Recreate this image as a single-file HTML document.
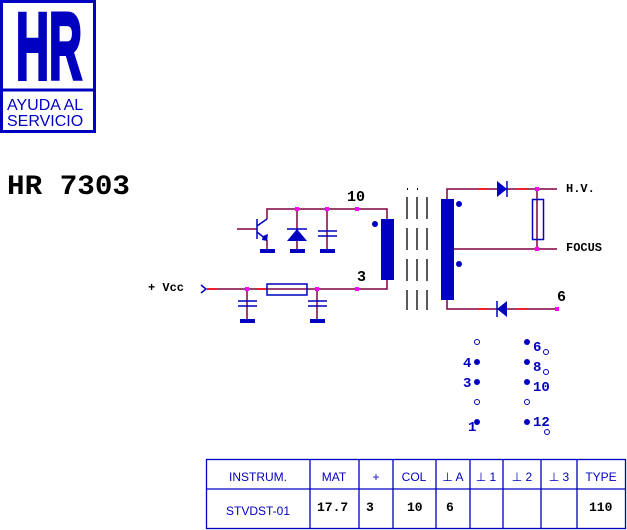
<!DOCTYPE html>
<html><head><meta charset="utf-8"><style>
body{margin:0;background:#fff;width:627px;height:530px;overflow:hidden;position:relative}
svg{position:absolute;left:0;top:0}
</style></head><body>
<svg width="627" height="530" viewBox="0 0 627 530" xmlns="http://www.w3.org/2000/svg">
<rect x="1.5" y="1.5" width="93" height="130" fill="none" stroke="#0000c0" stroke-width="3"/>
<line x1="1" y1="90" x2="95" y2="90" stroke="#0000c0" stroke-width="3"/>
<text x="16" y="79" font-family="Liberation Sans, sans-serif" font-weight="bold" font-size="95" fill="#0000c0" stroke="#0000c0" stroke-width="4" stroke-linejoin="miter" textLength="66" lengthAdjust="spacingAndGlyphs">HR</text>
<text x="7" y="110" font-family="Liberation Sans, sans-serif" font-size="16" fill="#0000c0">AYUDA AL</text>
<text x="7" y="126" font-family="Liberation Sans, sans-serif" font-size="16" fill="#0000c0">SERVICIO</text>
<text x="7" y="194" font-family="Liberation Mono, monospace" font-weight="bold" font-size="28" fill="#000" textLength="123" lengthAdjust="spacingAndGlyphs">HR 7303</text>

<g stroke="#800040" stroke-width="1.5" fill="none">
<polyline points="267,219 267,209 387,209 387,219"/>
<polyline points="207,289 387,289 387,280"/>
<line x1="297" y1="209" x2="297" y2="250"/>
<line x1="327" y1="209" x2="327" y2="250"/>
<line x1="267" y1="240" x2="267" y2="250"/>
<line x1="237" y1="229" x2="257" y2="229"/>
<line x1="247" y1="289" x2="247" y2="319"/>
<line x1="317" y1="289" x2="317" y2="319"/>
<polyline points="447,199 447,189 557,189"/>
<line x1="447" y1="249" x2="557" y2="249"/>
<polyline points="447,300 447,309 557,309"/>
<line x1="537" y1="189" x2="537" y2="249"/>
</g>
<g stroke="#ff0000" stroke-width="1.5">
<line x1="207" y1="289" x2="217" y2="289"/>
<line x1="257" y1="289" x2="267" y2="289"/>
<line x1="478" y1="189" x2="488" y2="189"/>
<line x1="517" y1="189" x2="527" y2="189"/>
<line x1="478" y1="309" x2="488" y2="309"/>
<line x1="517" y1="309" x2="527" y2="309"/>
</g>
<g stroke="#0000c0" stroke-width="1.5" fill="none">
<line x1="257" y1="219" x2="257" y2="239"/>
<line x1="257" y1="226" x2="267" y2="219"/>
<line x1="257" y1="232" x2="267" y2="240"/>
<line x1="287" y1="229" x2="307" y2="229"/>
<line x1="318" y1="231" x2="337" y2="231"/><line x1="318" y1="236" x2="337" y2="236"/>
<line x1="238" y1="301" x2="257" y2="301"/><line x1="238" y1="306" x2="257" y2="306"/>
<line x1="308" y1="301" x2="327" y2="301"/><line x1="308" y1="306" x2="327" y2="306"/>
<rect x="267" y="284" width="40" height="11"/>
<rect x="532.5" y="199.5" width="11" height="40"/>
<polyline points="201,285 206,289 201,293"/>
<line x1="507" y1="181" x2="507" y2="197"/>
<line x1="497" y1="301" x2="497" y2="317"/>
</g>
<g fill="#0000c0">
<polygon points="263,236 268,234 267,241 262,240"/>
<polygon points="297,229 287,241 307,241"/>
<polygon points="497,181 507,189 497,197"/>
<polygon points="507,301 497,309 507,317"/>
<rect x="260" y="249" width="15" height="4"/>
<rect x="290" y="249" width="15" height="4"/>
<rect x="320" y="249" width="15" height="4"/>
<rect x="240" y="319" width="15" height="4"/>
<rect x="310" y="319" width="15" height="4"/>
<rect x="381" y="219" width="13" height="61"/>
<rect x="441" y="199" width="13" height="101"/>
<circle cx="375" cy="224" r="3"/>
<circle cx="459" cy="204" r="3"/>
<circle cx="459" cy="264" r="3"/>
</g>
<g fill="#ff00ff">
<rect x="295" y="207" width="4" height="4"/><rect x="325" y="207" width="4" height="4"/><rect x="355" y="207" width="4" height="4"/>
<rect x="245" y="287" width="4" height="4"/><rect x="315" y="287" width="4" height="4"/><rect x="355" y="287" width="4" height="4"/>
<rect x="535" y="187" width="4" height="4"/><rect x="535" y="247" width="4" height="4"/><rect x="555" y="307" width="4" height="4"/>
</g>
<g stroke="#000" stroke-width="1.3" stroke-dasharray="22,9">
<line x1="407" y1="197" x2="407" y2="310"/>
<line x1="417" y1="197" x2="417" y2="310"/>
<line x1="427" y1="197" x2="427" y2="310"/>
</g>
<g fill="#000"><rect x="407" y="188" width="1" height="2"/><rect x="417" y="188" width="1" height="2"/></g>
<g font-family="Liberation Mono, monospace" font-weight="bold" fill="#000">
<text x="347" y="201" font-size="15">10</text>
<text x="357" y="281" font-size="15">3</text>
<text x="557" y="301" font-size="15">6</text>
<text x="566" y="192" font-size="12">H.V.</text>
<text x="566" y="251" font-size="12">FOCUS</text>
<text x="148" y="291" font-size="12">+ Vcc</text>
</g>
<g fill="#0000c0"><circle cx="477" cy="362" r="3"/><circle cx="477" cy="382" r="3"/><circle cx="477" cy="422" r="3"/>
<circle cx="527" cy="342" r="3"/><circle cx="527" cy="362" r="3"/><circle cx="527" cy="382" r="3"/><circle cx="527" cy="422" r="3"/></g>
<g fill="none" stroke="#0000c0" stroke-width="1"><circle cx="477" cy="342" r="2.5"/><circle cx="477" cy="402" r="2.5"/><circle cx="527" cy="402" r="2.5"/>
<circle cx="546" cy="352" r="2.5"/><circle cx="546" cy="372" r="2.5"/><circle cx="547" cy="432" r="2.5"/></g>
<g font-family="Liberation Mono, monospace" font-weight="bold" font-size="14" fill="#0000c0">
<text x="463" y="367">4</text><text x="463" y="387">3</text><text x="468" y="431">1</text>
<text x="533" y="351">6</text><text x="533" y="371">8</text><text x="533" y="391">10</text><text x="533" y="426">12</text>
</g>
<g stroke="#0000c0" stroke-width="1.3" fill="none">
<rect x="206.5" y="459.5" width="419" height="69"/>
<line x1="206" y1="489" x2="626" y2="489"/>
<line x1="310" y1="459" x2="310" y2="529"/><line x1="359" y1="459" x2="359" y2="529"/>
<line x1="393" y1="459" x2="393" y2="529"/><line x1="436" y1="459" x2="436" y2="529"/>
<line x1="470" y1="459" x2="470" y2="529"/><line x1="503" y1="459" x2="503" y2="529"/>
<line x1="541" y1="459" x2="541" y2="529"/><line x1="577" y1="459" x2="577" y2="529"/>
</g>
<g font-family="Liberation Sans, DejaVu Sans, sans-serif" font-size="12" fill="#0000c0" text-anchor="middle">
<text x="258" y="481">INSTRUM.</text><text x="334" y="481">MAT</text><text x="376" y="481">+</text>
<text x="414" y="481">COL</text><text x="453" y="481">⊥ A</text><text x="486" y="481">⊥ 1</text>
<text x="522" y="481">⊥ 2</text><text x="559" y="481">⊥ 3</text><text x="601" y="481">TYPE</text>
<text x="258" y="515">STVDST-01</text>
</g>
<g font-family="Liberation Mono, monospace" font-weight="bold" font-size="13" fill="#000">
<text x="317" y="511">17.7</text><text x="366" y="511">3</text><text x="407" y="511">10</text><text x="446" y="511">6</text><text x="589" y="511">110</text>
</g>
</svg>
</body></html>
